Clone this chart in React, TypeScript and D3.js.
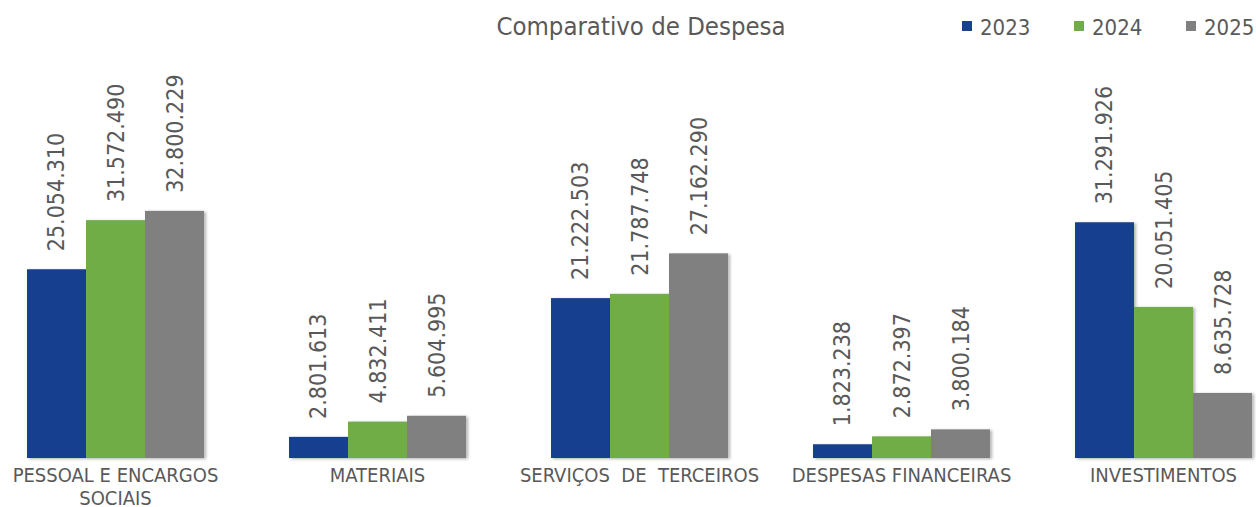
import React from "react";
import * as d3 from "d3";

const categories: string[][] = [
  ["PESSOAL E ENCARGOS", "SOCIAIS"],
  ["MATERIAIS"],
  ["SERVIÇOS\u00a0\u00a0DE\u00a0\u00a0TERCEIROS"],
  ["DESPESAS FINANCEIRAS"],
  ["INVESTIMENTOS"],
];
const years = ["2023", "2024", "2025"];
const values2023 = [25054310, 2801613, 21222503, 1823238, 31291926];
const values2024 = [31572490, 4832411, 21787748, 2872397, 20051405];
const values2025 = [32800229, 5604995, 27162290, 3800184, 8635728];
const colors = ["#17408F", "#70AD47", "#808080"];
const title = "Comparativo de Despesa";

const W = 1256;
const H = 507;
const FONT = "'DejaVu Sans Condensed', 'DejaVu Sans', sans-serif";
const TEXT = "#595959";

export default function App() {
  const series = [values2023, values2024, values2025];
  const idx = categories.map((_, i) => String(i));
  const x = d3.scaleBand<string>().domain(idx).range([-15.5, 1294.5]).paddingInner(0.3244).paddingOuter(0.1622);
  const xi = d3.scaleBand<string>().domain(years).range([0, x.bandwidth()]).padding(0);
  const y = d3.scaleLinear().domain([0, 35000000]).range([458, 194.3]);
  const fmt = (v: number) => d3.format(",")(v).replace(/,/g, ".");

  const legendX = [962, 1074, 1186];

  return (
    <svg width={W} height={H} style={{ position: "absolute", left: 0, top: 0, background: "#fff" }}>
      <defs>
        <filter id="sh" x="-10%" y="-10%" width="130%" height="130%">
          <feDropShadow dx="2" dy="1" stdDeviation="1.5" floodColor="#000" floodOpacity="0.3" />
        </filter>
      </defs>
      <text x={641} y={35} textAnchor="middle" fontFamily={FONT} fontSize={25.5} fill={TEXT}>
        {title}
      </text>
      {years.map((yr, k) => (
        <g key={yr}>
          <rect x={legendX[k]} y={21} width={10} height={10} fill={colors[k]} />
          <text x={legendX[k] + 18} y={35} fontFamily={FONT} fontSize={22} fill={TEXT}>
            {yr}
          </text>
        </g>
      ))}
      {idx.map((c, i) => (
        <g key={c} transform={`translate(${x(c)},0)`}>
          {years.map((yr, k) => {
            const v = series[k][i];
            const bx = xi(yr)!;
            const top = y(v);
            return (
              <rect key={yr} x={bx} y={top} width={xi.bandwidth()} height={y(0) - top} fill={colors[k]} filter="url(#sh)" />
            );
          })}
          {years.map((yr, k) => {
            const v = series[k][i];
            const cx = xi(yr)! + xi.bandwidth() / 2;
            const ty = y(v) - 18;
            return (
              <text
                key={"l" + yr}
                transform={`translate(${cx + 8},${ty}) rotate(-90)`}
                fontFamily={FONT}
                fontSize={23}
                fill={TEXT}
              >
                {fmt(v)}
              </text>
            );
          })}
          {categories[i].map((line, j) => (
            <text
              key={"c" + j}
              x={x.bandwidth() / 2}
              y={482 + j * 23}
              textAnchor="middle"
              fontFamily={FONT}
              fontSize={20}
              fill={TEXT}
            >
              {line}
            </text>
          ))}
        </g>
      ))}
    </svg>
  );
}
